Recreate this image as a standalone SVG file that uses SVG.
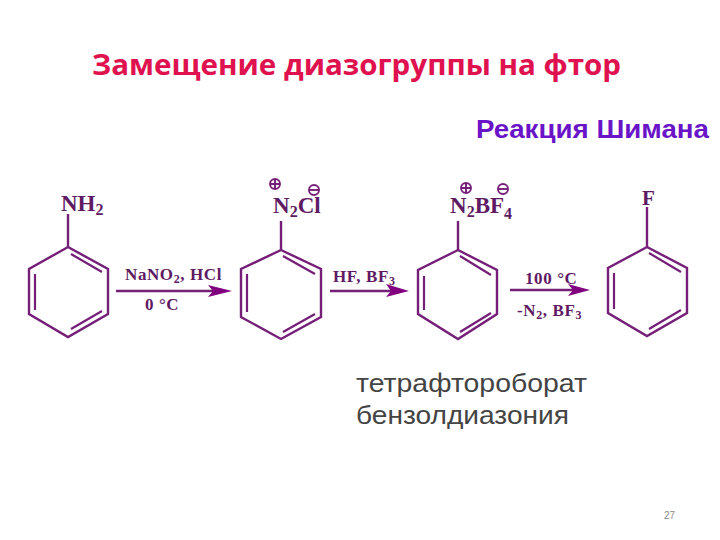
<svg xmlns="http://www.w3.org/2000/svg" width="720" height="540" viewBox="0 0 720 540">
<style>
.b{fill:none;stroke:#751f78;stroke-width:2.4;stroke-linejoin:miter}
.d{fill:none;stroke:#751f78;stroke-width:2.2}
.c{font-family:"Liberation Serif",serif;font-weight:bold;fill:#5e1a63}
.l{font-size:23px}.r{font-size:17px;letter-spacing:.6px}.s{font-size:16px}.rs{font-size:12px}
.h{fill:#800080}
.q{fill:none;stroke:#751f78;stroke-width:1.9}
.ru{font-family:"Liberation Sans",sans-serif;font-size:25px;fill:#444444}
</style>
<defs>
<g id="plus"><circle r="5" class="q"/><path d="M-5 0H5M0-5V5" class="q"/></g>
<g id="minus"><circle r="5" class="q"/><path d="M-5 0H5" class="q"/></g>
</defs>
<rect width="720" height="540" fill="#ffffff"/>
<text id="title" x="92" y="75" font-family="'Open Sans','Noto Sans',sans-serif" font-weight="bold" font-size="28" fill="#e0114f" textLength="529" lengthAdjust="spacingAndGlyphs">Замещение диазогруппы на фтор</text>
<text id="subtitle" x="476" y="138" font-family="'Liberation Sans',sans-serif" font-weight="bold" font-size="25" fill="#6a14c8" textLength="233" lengthAdjust="spacingAndGlyphs">Реакция Шимана</text>
<g id="aniline">
<path class="b" d="M68 247L108 269V314L68 337L29 314V269Z"/>
<path class="d" d="M71 254L102 272M35 274V310M71 329L102 311"/>
<path class="b" d="M68 247V214"/>
<text class="c l" x="61" y="211">NH<tspan class="s" dy="4">2</tspan></text>
</g>
<g id="diazonium-chloride">
<path class="b" d="M281 250L321 269V317L281 339L241 317V269Z"/>
<path class="d" d="M283 256L315 274M247 274V312M283 332L315 314"/>
<path class="b" d="M281 250V221"/>
<text class="c l" x="273" y="213">N<tspan class="s" dy="4">2</tspan><tspan dy="-4">Cl</tspan></text>
<use href="#plus" x="275" y="184"/>
<use href="#minus" x="314" y="190"/>
</g>
<g id="diazonium-tetrafluoroborate">
<path class="b" d="M458 250L497 270V314L458 339L418 314V270Z"/>
<path class="d" d="M460 256L491 275M424 276V310M460 332L491 313"/>
<path class="b" d="M458 250V221"/>
<text class="c l" x="450" y="213">N<tspan class="s" dy="4">2</tspan><tspan dy="-4">BF</tspan><tspan class="s" dy="6">4</tspan></text>
<use href="#plus" x="466" y="188"/>
<use href="#minus" x="503" y="189"/>
</g>
<g id="fluorobenzene">
<path class="b" d="M647 247L687 268V313L647 336L608 313V268Z"/>
<path class="d" d="M649 253L681 272M614 273V309M649 329L681 310"/>
<path class="b" d="M647 247V207"/>
<text class="c" font-size="21" x="642" y="205">F</text>
</g>
<g id="connectors">
<path class="b" d="M116 291H215"/><path class="h" d="M208 285L232 291L208 297L213 291Z"/>
<path class="b" d="M330 291H392"/><path class="h" d="M386 284L409 291L386 297L391 291Z"/>
<path class="b" d="M510 290H575"/><path class="h" d="M568 284L590 290L568 296L573 290Z"/>
</g>
<g id="reagents">
<text class="c r" x="125" y="280">NaNO<tspan class="rs" dy="3">2</tspan><tspan dy="-3">, HCl</tspan></text>
<text class="c r" x="145" y="310">0 °C</text>
<text class="c r" x="333" y="282">HF, BF<tspan class="rs" dy="3">3</tspan></text>
<text class="c r" x="525" y="284">100 °C</text>
<text class="c r" x="517" y="316">-N<tspan class="rs" dy="3">2</tspan><tspan dy="-3">, BF</tspan><tspan class="rs" dy="3">3</tspan></text>
</g>
<text class="ru" x="356" y="392" textLength="231" lengthAdjust="spacingAndGlyphs">тетрафтороборат</text>
<text class="ru" x="356" y="424" textLength="213" lengthAdjust="spacingAndGlyphs">бензолдиазония</text>
<text id="page" x="664" y="519" font-family="'Liberation Sans',sans-serif" font-size="10" fill="#8a8a8a">27</text>
</svg>
